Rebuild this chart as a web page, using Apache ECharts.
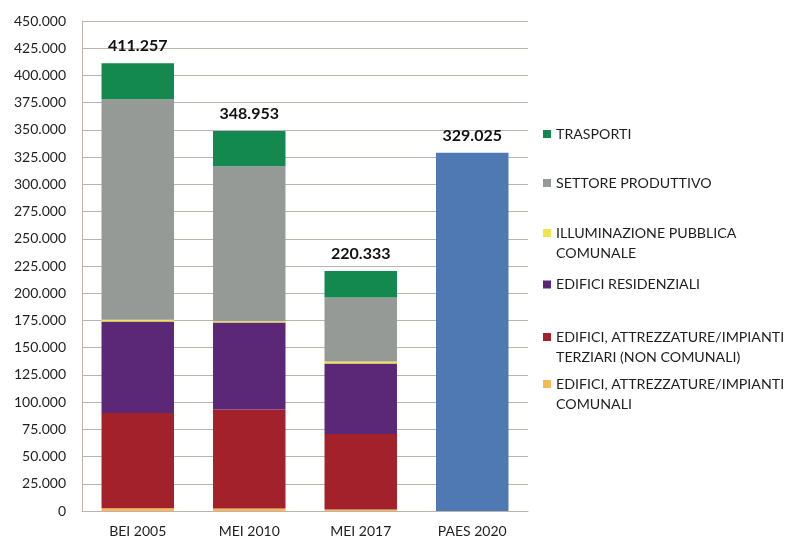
<!DOCTYPE html>
<html>
<head>
<meta charset="utf-8">
<script src="https://cdn.jsdelivr.net/npm/echarts@6/dist/echarts.min.js"></script>
<style>
  html, body { margin: 0; padding: 0; background: #ffffff; }
  #chart { width: 791px; height: 541px; }
</style>
</head>
<body>
<div id="chart"></div>
<script>
// Emissioni per settore (stacked) e obiettivo PAES
const categories = ['BEI 2005', 'MEI 2010', 'MEI 2017', 'PAES 2020'];

const edificiComunali   = [2600, 2300, 1300, null];
const edificiTerziari   = [87400, 90800, 69400, null];
const edificiResidenz   = [84000, 79900, 64700, null];
const illuminazione     = [1700, 1200, 2000, null];
const settoreProduttivo = [202500, 142400, 58600, null];
const trasporti         = [33057, 32353, 24333, null];
const obiettivoPaes     = [null, null, null, 329025];

const yTicks = { min: 0, max: 450000, interval: 25000 };

const names = {
  trasp: 'TRASPORTI',
  prod: 'SETTORE PRODUTTIVO',
  illum: 'ILLUMINAZIONE PUBBLICA COMUNALE',
  res: 'EDIFICI RESIDENZIALI',
  terz: 'EDIFICI, ATTREZZATURE/IMPIANTI TERZIARI (NON COMUNALI)',
  com: 'EDIFICI, ATTREZZATURE/IMPIANTI COMUNALI'
};
// Two-line entries get a blank leading line so the marker sits on the first text line
const legendText = {};
legendText[names.trasp] = 'TRASPORTI';
legendText[names.prod] = 'SETTORE PRODUTTIVO';
legendText[names.illum] = ' \nILLUMINAZIONE PUBBLICA\nCOMUNALE';
legendText[names.res] = 'EDIFICI RESIDENZIALI';
legendText[names.terz] = ' \nEDIFICI, ATTREZZATURE/IMPIANTI\nTERZIARI (NON COMUNALI)';
legendText[names.com] = ' \nEDIFICI, ATTREZZATURE/IMPIANTI\nCOMUNALI';

function fmt(v) {
  return String(Math.round(v)).replace(/\B(?=(\d{3})+(?!\d))/g, '.');
}

const stackParts = [edificiComunali, edificiTerziari, edificiResidenz, illuminazione, settoreProduttivo, trasporti];
const totals = categories.map((c, i) => stackParts.reduce((s, arr) => s + (arr[i] || 0), 0));

const FONT = 'Lato';
const chart = echarts.init(document.getElementById('chart'), null, { renderer: 'canvas' });

function legendFor(name, top) {
  return {
    data: [name],
    left: 543,
    top: top,
    padding: 0,
    itemWidth: 8,
    itemHeight: 8,
    itemGap: 0,
    icon: 'rect',
    selectedMode: false,
    formatter: n => legendText[n],
    textStyle: {
      fontFamily: FONT,
      fontSize: 14.2,
      color: '#1e1e1e',
      lineHeight: 20
    }
  };
}

function bar(name, data, color) {
  return {
    name: name,
    type: 'bar',
    stack: 'tot',
    data: data,
    barCategoryGap: '35%',
    itemStyle: { color: color },
    emphasis: { disabled: true }
  };
}

const totalLabel = {
  show: true,
  position: 'top',
  distance: 9,
  fontFamily: FONT,
  fontSize: 16,
  fontWeight: 'bold',
  color: '#111111'
};

const series = [
  bar(names.com, edificiComunali, '#f6b955'),
  bar(names.terz, edificiTerziari, '#a3212a'),
  bar(names.res, edificiResidenz, '#5b2878'),
  bar(names.illum, illuminazione, '#f0e64a'),
  bar(names.prod, settoreProduttivo, '#959a96'),
  Object.assign(bar(names.trasp, trasporti, '#13894f'), {
    label: Object.assign({}, totalLabel, { formatter: p => fmt(totals[p.dataIndex]) })
  }),
  Object.assign(bar('PAES 2020', obiettivoPaes, '#4f79b2'), {
    label: Object.assign({}, totalLabel, { formatter: p => fmt(p.value) })
  })
];

chart.setOption({
  animation: false,
  backgroundColor: '#ffffff',
  grid: { left: 82, right: 263, top: 21, bottom: 30, containLabel: false },
  legend: [
    legendFor(names.trasp, 124),
    legendFor(names.prod, 173),
    legendFor(names.illum, 203),
    legendFor(names.res, 274.5),
    legendFor(names.terz, 307),
    legendFor(names.com, 354)
  ],
  xAxis: {
    type: 'category',
    data: categories,
    axisLine: { show: true, lineStyle: { color: '#bdb5ad', width: 1 } },
    axisTick: { show: false },
    axisLabel: { fontFamily: FONT, fontSize: 14, color: '#1e1e1e', margin: 13 }
  },
  yAxis: {
    type: 'value',
    min: yTicks.min,
    max: yTicks.max,
    interval: yTicks.interval,
    axisLine: { show: true, lineStyle: { color: '#bdb5ad', width: 1 } },
    axisTick: { show: false },
    splitLine: { show: true, lineStyle: { color: '#bdb5ad', width: 1 } },
    axisLabel: { fontFamily: FONT, fontSize: 14, color: '#1e1e1e', margin: 16, formatter: v => fmt(v) }
  },
  series: series
});
</script>
</body>
</html>
